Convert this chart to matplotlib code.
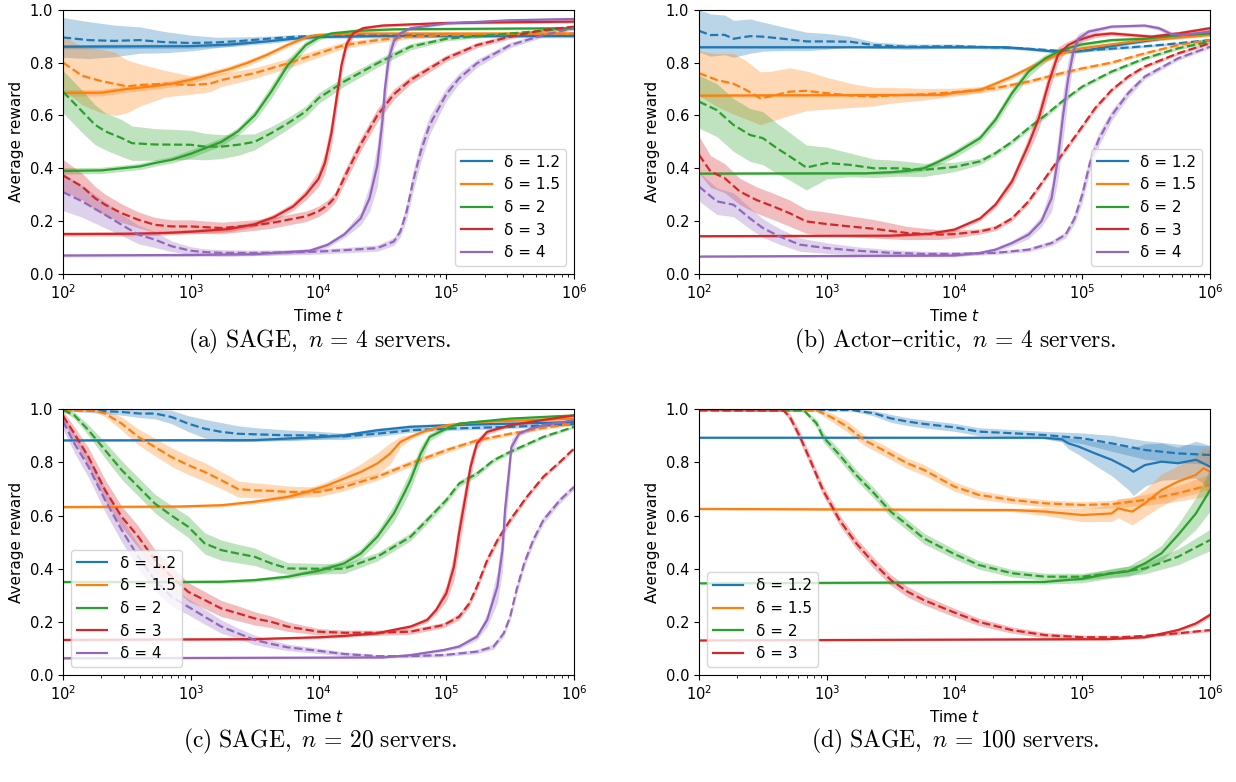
import numpy as np
import matplotlib
matplotlib.use("Agg")
import matplotlib.pyplot as plt

# ---------------- data: (log10 t, mean reward, band half-width) ----------------
DELTAS_4 = ["1.2", "1.5", "2", "3", "4"]
DELTAS_100 = ["1.2", "1.5", "2", "3"]
COLORS = ["#1f77b4", "#ff7f0e", "#2ca02c", "#d62728", "#9467bd"]
CAPTION_A = r"$\mathrm{(a)\ SAGE,}\ n\,=\,4\ \mathrm{servers.}$"
CAPTION_B = r"$\mathrm{(b)\ Actor}$–$\mathrm{critic,}\ n\,=\,4\ \mathrm{servers.}$"
CAPTION_C = r"$\mathrm{(c)\ SAGE,}\ n\,=\,20\ \mathrm{servers.}$"
CAPTION_D = r"$\mathrm{(d)\ SAGE,}\ n\,=\,100\ \mathrm{servers.}$"

# Panel (a): SAGE, n = 4
A12_solid = [(2.0, .86, .008), (3.0, .862, .008), (3.3, .868, .008), (3.6, .88, .008), (3.8, .89, .008),
             (4.0, .897, .006), (4.5, .9, .006), (6.0, .9, .006)]
A12_dash = [(2.0, .895, .075), (2.2, .885, .07), (2.4, .882, .06), (2.6, .885, .05), (2.8, .877, .04),
            (3.0, .874, .03), (3.2, .876, .02), (3.4, .882, .015), (3.6, .89, .01), (3.8, .897, .008),
            (4.0, .902, .006), (4.5, .905, .005), (6.0, .905, .005)]
A15_solid = [(2.0, .685, .012), (2.3, .686, .012), (2.5, .70, .012), (2.7, .71, .012), (2.85, .72, .012),
             (3.0, .735, .012), (3.15, .755, .012), (3.3, .775, .012), (3.45, .80, .012), (3.6, .83, .01),
             (3.75, .865, .01), (3.9, .895, .008), (4.0, .905, .006), (4.3, .91, .005), (6.0, .91, .005)]
A15_dash = [(2.0, .80, .10), (2.15, .75, .11), (2.3, .73, .12), (2.4, .72, .12), (2.5, .71, .10),
            (2.6, .715, .08), (2.8, .72, .05), (3.0, .715, .035), (3.15, .72, .03), (3.24, .734, .025),
            (3.5, .76, .02), (3.76, .797, .018), (4.0, .835, .015), (4.2, .866, .012), (4.46, .885, .01),
            (4.72, .898, .008), (5.0, .904, .006), (6.0, .91, .005)]
A2_solid = [(2.0, .39, .012), (2.3, .392, .012), (2.46, .40, .012), (2.6, .407, .012), (2.72, .42, .012),
            (2.85, .432, .012), (3.0, .455, .015), (3.24, .50, .015), (3.37, .54, .015), (3.5, .60, .02),
            (3.63, .69, .025), (3.76, .79, .025), (3.9, .866, .015), (4.0, .894, .01), (4.1, .91, .008),
            (4.3, .92, .006), (4.6, .926, .005), (6.0, .93, .005)]
A2_dash = [(2.0, .69, .08), (2.15, .615, .08), (2.25, .565, .075), (2.33, .54, .07), (2.46, .514, .07),
           (2.54, .495, .065), (2.72, .49, .06), (3.0, .489, .055), (3.11, .482, .05), (3.24, .482, .045),
           (3.37, .489, .04), (3.5, .50, .03), (3.63, .533, .025), (3.76, .57, .022), (3.9, .615, .02),
           (4.0, .665, .02), (4.2, .728, .018), (4.46, .797, .015), (4.72, .86, .012), (5.0, .89, .008),
           (5.5, .91, .006), (6.0, .93, .005)]
A3_solid = [(2.0, .151, .008), (2.5, .152, .008), (2.8, .155, .008), (3.0, .16, .008), (3.3, .17, .01),
            (3.5, .188, .01), (3.65, .215, .012), (3.8, .255, .015), (3.9, .30, .02), (4.0, .36, .03),
            (4.05, .42, .04), (4.1, .53, .05), (4.14, .66, .05), (4.18, .79, .04), (4.22, .87, .025),
            (4.27, .91, .012), (4.35, .93, .008), (4.5, .94, .006), (5.0, .95, .005), (6.0, .955, .005)]
A3_dash = [(2.0, .373, .06), (2.15, .331, .05), (2.25, .287, .045), (2.33, .262, .04), (2.46, .23, .035),
           (2.59, .205, .03), (2.72, .186, .028), (2.85, .18, .025), (3.0, .18, .025), (3.24, .174, .022),
           (3.5, .185, .02), (3.63, .193, .02), (3.76, .205, .02), (3.9, .218, .02), (4.0, .237, .02),
           (4.07, .26, .02), (4.13, .29, .02), (4.2, .363, .025), (4.33, .49, .025), (4.46, .60, .025),
           (4.59, .68, .02), (4.72, .734, .015), (5.0, .816, .012), (5.24, .866, .01), (5.5, .898, .008),
           (5.76, .923, .006), (6.0, .936, .005)]
A4_solid = [(2.0, .07, .006), (3.0, .072, .006), (3.5, .075, .006), (3.93, .088, .008), (4.07, .11, .01),
            (4.2, .149, .012), (4.33, .21, .025), (4.40, .287, .05), (4.46, .41, .08), (4.50, .577, .09),
            (4.52, .70, .08), (4.55, .816, .05), (4.59, .88, .025), (4.64, .91, .01), (4.72, .93, .006),
            (5.0, .948, .005), (5.5, .96, .005), (6.0, .965, .005)]
A4_dash = [(2.0, .31, .07), (2.15, .275, .06), (2.33, .224, .05), (2.46, .186, .04), (2.59, .149, .035),
           (2.72, .13, .03), (2.85, .105, .02), (3.0, .088, .015), (3.11, .083, .012), (3.24, .08, .012),
           (3.5, .08, .01), (3.76, .082, .01), (4.0, .085, .01), (4.2, .09, .01), (4.46, .098, .012),
           (4.59, .123, .015), (4.64, .16, .02), (4.69, .237, .03), (4.74, .35, .04), (4.8, .463, .04),
           (4.87, .564, .035), (5.0, .68, .025), (5.1, .74, .02), (5.24, .797, .015), (5.5, .866, .01),
           (5.76, .904, .008), (6.0, .93, .006)]

# Panel (b): Actor-critic, n = 4
B12_solid = [(2.0, .858, .004), (4.4, .858, .004), (4.58, .851, .005), (4.79, .841, .006), (4.97, .842, .006),
             (5.1, .852, .006), (5.36, .872, .006), (5.62, .89, .006), (6.0, .91, .006)]
B12_dash = [(2.0, .92, .08), (2.09, .904, .08), (2.2, .905, .075), (2.27, .89, .07), (2.4, .90, .065),
            (2.5, .898, .055), (2.66, .89, .045), (2.84, .88, .035), (3.0, .88, .03), (3.18, .879, .02),
            (3.37, .866, .012), (3.63, .86, .01), (4.0, .862, .008), (4.5, .855, .006), (4.8, .845, .005),
            (5.0, .845, .005), (5.3, .855, .005), (5.6, .866, .005), (6.0, .885, .005)]
B15_solid = [(2.0, .675, .005), (3.9, .678, .006), (4.0, .686, .008), (4.2, .696, .01), (4.32, .72, .01),
             (4.45, .747, .01), (4.58, .778, .01), (4.71, .81, .01), (4.84, .835, .008), (5.0, .854, .008),
             (5.23, .869, .006), (5.49, .885, .006), (6.0, .904, .006)]
B15_dash = [(2.0, .76, .085), (2.14, .734, .10), (2.27, .72, .115), (2.37, .696, .11), (2.48, .665, .10),
            (2.56, .672, .095), (2.71, .69, .09), (2.84, .693, .075), (3.0, .684, .06), (3.2, .675, .045),
            (3.37, .671, .035), (3.5, .676, .03), (3.76, .68, .022), (4.0, .688, .015), (4.32, .703, .01),
            (4.58, .728, .008), (4.84, .76, .008), (5.0, .778, .007), (5.23, .80, .006), (5.49, .835, .006),
            (5.75, .866, .006), (6.0, .885, .005)]
B2_solid = [(2.0, .38, .004), (3.3, .381, .005), (3.5, .385, .006), (3.63, .39, .008), (3.76, .40, .01),
            (3.88, .426, .012), (4.0, .455, .015), (4.2, .514, .015), (4.32, .583, .018), (4.45, .684, .02),
            (4.58, .766, .02), (4.71, .816, .015), (4.84, .848, .01), (5.0, .869, .008), (5.23, .885, .006),
            (5.49, .89, .006), (5.75, .904, .006), (6.0, .91, .006)]
B2_dash = [(2.0, .652, .1), (2.14, .62, .1), (2.27, .564, .1), (2.4, .526, .1), (2.5, .514, .1),
           (2.61, .476, .095), (2.71, .445, .09), (2.84, .403, .085), (3.0, .42, .06), (3.18, .413, .045),
           (3.37, .40, .035), (3.55, .40, .03), (3.76, .394, .025), (4.0, .405, .018), (4.2, .426, .012),
           (4.32, .457, .01), (4.45, .50, .01), (4.58, .552, .01), (4.71, .60, .01), (4.84, .652, .008),
           (5.0, .709, .008), (5.23, .766, .007), (5.49, .816, .006), (5.75, .854, .006), (6.0, .879, .005)]
B3_solid = [(2.0, .143, .004), (3.5, .145, .005), (3.8, .152, .006), (4.0, .168, .008), (4.2, .21, .01),
            (4.32, .262, .012), (4.45, .35, .02), (4.58, .49, .03), (4.66, .59, .04), (4.74, .728, .04),
            (4.81, .829, .03), (4.89, .866, .015), (4.97, .885, .012), (5.1, .904, .01), (5.23, .91, .008),
            (5.36, .905, .008), (5.54, .898, .008), (5.75, .91, .008), (6.0, .93, .008)]
B3_dash = [(2.0, .451, .07), (2.09, .388, .06), (2.2, .363, .055), (2.32, .312, .05), (2.45, .28, .05),
           (2.58, .256, .05), (2.71, .23, .05), (2.84, .199, .045), (3.0, .189, .045), (3.18, .18, .04),
           (3.37, .171, .035), (3.63, .155, .025), (3.89, .149, .018), (4.0, .151, .015), (4.2, .161, .01),
           (4.32, .174, .01), (4.45, .21, .01), (4.58, .275, .01), (4.71, .363, .01), (4.84, .451, .01),
           (5.0, .558, .01), (5.1, .627, .01), (5.23, .696, .008), (5.36, .747, .008), (5.49, .785, .007),
           (5.75, .835, .006), (6.0, .873, .005)]
B4_solid = [(2.0, .066, .004), (4.0, .07, .005), (4.2, .08, .006), (4.32, .092, .008), (4.45, .117, .01),
            (4.58, .149, .015), (4.68, .199, .02), (4.76, .287, .05), (4.81, .438, .08), (4.85, .60, .09),
            (4.89, .74, .07), (4.93, .841, .04), (4.97, .89, .02), (5.05, .917, .01), (5.23, .936, .006),
            (5.49, .94, .006), (5.6, .93, .008), (5.7, .907, .01), (5.8, .905, .01), (6.0, .917, .01)]
B4_dash = [(2.0, .331, .055), (2.14, .275, .05), (2.27, .262, .045), (2.4, .21, .04), (2.5, .174, .035),
           (2.63, .142, .03), (2.79, .111, .025), (3.0, .098, .02), (3.24, .088, .015), (3.5, .08, .012),
           (3.76, .076, .01), (4.0, .076, .008), (4.32, .08, .006), (4.58, .092, .008), (4.76, .117, .01),
           (4.87, .149, .012), (4.94, .21, .02), (5.0, .30, .03), (5.06, .42, .03), (5.13, .51, .025),
           (5.23, .60, .02), (5.36, .684, .015), (5.49, .747, .01), (5.75, .816, .008), (6.0, .86, .006)]

# Panel (c): SAGE, n = 20
C12_solid = [(2.0, .883, .004), (3.5, .884, .005), (3.76, .89, .006), (4.0, .895, .008), (4.2, .902, .008),
             (4.46, .921, .008), (4.72, .934, .008), (5.0, .94, .006), (5.5, .946, .006), (6.0, .952, .005)]
C12_dash = [(2.0, .997, .004), (2.2, .996, .008), (2.46, .99, .012), (2.6, .984, .015), (2.72, .984, .02),
            (2.85, .971, .025), (2.98, .946, .03), (3.11, .927, .035), (3.24, .915, .035), (3.37, .908, .03),
            (3.5, .906, .025), (3.76, .902, .02), (4.0, .902, .015), (4.2, .898, .012), (4.46, .908, .01),
            (4.72, .921, .008), (5.0, .927, .007), (5.5, .934, .006), (6.0, .944, .005)]
C15_solid = [(2.0, .632, .004), (2.9, .634, .005), (3.24, .639, .006), (3.5, .652, .008), (3.76, .67, .01),
             (3.93, .692, .012), (4.07, .714, .015), (4.2, .739, .02), (4.33, .764, .03), (4.46, .796, .04),
             (4.56, .833, .04), (4.64, .877, .02), (4.72, .896, .01), (4.85, .921, .008), (5.0, .94, .006),
             (5.24, .952, .005), (6.0, .965, .005)]
C15_dash = [(2.0, .997, .004), (2.25, .996, .006), (2.33, .984, .012), (2.46, .946, .025), (2.59, .896, .03),
            (2.72, .858, .033), (2.85, .82, .035), (2.98, .79, .035), (3.11, .764, .035), (3.24, .733, .032),
            (3.37, .70, .03), (3.5, .695, .028), (3.63, .693, .025), (3.76, .689, .022), (4.0, .689, .018),
            (4.2, .708, .015), (4.46, .746, .013), (4.72, .796, .012), (5.0, .846, .01), (5.24, .883, .008),
            (5.5, .908, .007), (5.76, .93, .006), (6.0, .946, .005)]
C2_solid = [(2.0, .35, .004), (2.8, .35, .005), (3.24, .351, .006), (3.5, .357, .007), (3.76, .37, .008),
            (4.0, .392, .012), (4.2, .42, .015), (4.33, .457, .018), (4.46, .52, .022), (4.59, .608, .03),
            (4.67, .683, .035), (4.72, .733, .035), (4.8, .833, .03), (4.87, .896, .015), (5.0, .927, .008),
            (5.1, .946, .006), (5.5, .965, .005), (6.0, .977, .005)]
C2_dash = [(2.0, .997, .004), (2.09, .977, .012), (2.2, .921, .02), (2.33, .846, .03), (2.46, .771, .035),
           (2.59, .708, .035), (2.72, .645, .035), (2.85, .60, .038), (2.98, .558, .04), (3.11, .495, .04),
           (3.24, .47, .038), (3.37, .457, .035), (3.5, .445, .033), (3.63, .42, .028), (3.76, .401, .022),
           (4.0, .40, .02), (4.2, .40, .018), (4.46, .445, .016), (4.72, .52, .015), (4.85, .583, .014),
           (5.0, .658, .013), (5.1, .72, .012), (5.24, .758, .01), (5.37, .808, .009), (5.5, .84, .008),
           (5.76, .896, .006), (6.0, .934, .005)]
C3_solid = [(2.0, .132, .004), (3.5, .135, .005), (4.0, .142, .005), (4.2, .147, .006), (4.46, .157, .006),
            (4.59, .17, .007), (4.72, .182, .008), (4.85, .207, .01), (4.92, .244, .015), (5.0, .307, .03),
            (5.06, .407, .05), (5.1, .533, .06), (5.15, .67, .05), (5.19, .783, .04), (5.24, .871, .02),
            (5.32, .915, .01), (5.5, .94, .006), (5.76, .96, .005), (6.0, .977, .005)]
C3_dash = [(2.0, .975, .02), (2.09, .908, .025), (2.2, .82, .035), (2.33, .695, .04), (2.46, .595, .04),
           (2.59, .52, .04), (2.72, .432, .04), (2.85, .37, .038), (2.98, .313, .035), (3.11, .282, .032),
           (3.24, .25, .03), (3.37, .232, .028), (3.5, .213, .025), (3.63, .20, .022), (3.76, .182, .018),
           (4.0, .163, .012), (4.2, .159, .01), (4.46, .159, .01), (4.72, .163, .01), (4.98, .188, .01),
           (5.1, .219, .012), (5.18, .269, .014), (5.24, .332, .015), (5.32, .432, .015), (5.4, .507, .014),
           (5.5, .583, .012), (5.63, .67, .01), (5.76, .746, .008), (5.89, .802, .007), (6.0, .852, .006)]
C4_solid = [(2.0, .063, .004), (4.5, .066, .004), (4.72, .075, .005), (4.98, .094, .006), (5.1, .107, .008),
            (5.24, .144, .012), (5.32, .207, .025), (5.4, .332, .06), (5.44, .47, .08), (5.46, .62, .08),
            (5.49, .758, .06), (5.51, .858, .03), (5.57, .908, .01), (5.66, .927, .008), (5.76, .94, .006),
            (6.0, .959, .005)]
C4_dash = [(2.0, .955, .03), (2.09, .871, .035), (2.2, .783, .04), (2.33, .658, .045), (2.46, .545, .045),
           (2.59, .445, .045), (2.72, .357, .04), (2.85, .294, .035), (2.98, .257, .03), (3.11, .219, .028),
           (3.24, .182, .025), (3.37, .157, .02), (3.5, .132, .018), (3.63, .117, .015), (3.76, .104, .012),
           (4.0, .091, .01), (4.2, .079, .008), (4.46, .071, .006), (4.72, .071, .006), (4.98, .075, .006),
           (5.24, .088, .008), (5.37, .107, .01), (5.45, .157, .012), (5.5, .219, .015), (5.55, .32, .018),
           (5.61, .42, .018), (5.68, .507, .016), (5.76, .583, .014), (5.89, .658, .012), (6.0, .708, .01)]

# Panel (d): SAGE, n = 100
D12_solid = [(2.0, .893, .003), (4.7, .893, .004), (4.84, .887, .01), (4.89, .872, .02), (4.97, .86, .03),
             (5.1, .834, .045), (5.23, .81, .06), (5.36, .778, .08), (5.4, .765, .09), (5.49, .79, .08),
             (5.62, .803, .07), (5.75, .797, .06), (5.89, .81, .07), (6.0, .784, .08)]
D12_dash = [(2.0, .997, .003), (3.2, .997, .004), (3.37, .985, .01), (3.5, .966, .015), (3.63, .954, .015),
            (3.76, .945, .015), (4.0, .932, .015), (4.19, .916, .015), (4.45, .91, .014), (4.71, .903, .014),
            (5.0, .891, .02), (5.23, .872, .03), (5.49, .847, .035), (5.75, .834, .035), (6.0, .828, .035)]
D15_solid = [(2.0, .625, .003), (4.45, .621, .006), (4.71, .615, .015), (5.0, .602, .025), (5.23, .608, .03),
             (5.28, .627, .035), (5.39, .615, .05), (5.49, .646, .05), (5.62, .696, .06), (5.75, .728, .06),
             (5.89, .753, .07), (5.95, .778, .08), (6.0, .765, .08)]
D15_dash = [(2.0, .997, .003), (2.92, .996, .005), (3.03, .972, .015), (3.16, .935, .02), (3.29, .885, .02),
            (3.44, .847, .02), (3.63, .797, .02), (3.76, .772, .02), (4.0, .709, .018), (4.19, .678, .016),
            (4.45, .659, .014), (4.71, .646, .013), (5.0, .64, .012), (5.23, .643, .015), (5.49, .659, .02),
            (5.75, .684, .03), (6.0, .715, .04)]
D2_solid = [(2.0, .345, .003), (4.7, .35, .008), (5.0, .362, .015), (5.23, .383, .018), (5.36, .39, .02),
            (5.49, .42, .025), (5.62, .458, .03), (5.75, .527, .04), (5.89, .608, .06), (6.0, .696, .08)]
D2_dash = [(2.0, .997, .003), (2.82, .996, .005), (2.92, .947, .015), (2.97, .897, .018), (3.1, .828, .02),
           (3.23, .753, .02), (3.37, .684, .02), (3.5, .615, .02), (3.63, .565, .02), (3.76, .514, .02),
           (4.0, .455, .018), (4.19, .414, .016), (4.45, .383, .014), (4.71, .37, .013), (5.0, .37, .013),
           (5.23, .383, .015), (5.49, .401, .02), (5.75, .445, .03), (6.0, .508, .04)]
D3_solid = [(2.0, .13, .003), (5.2, .135, .004), (5.49, .142, .005), (5.75, .169, .007), (5.89, .194, .008),
            (6.0, .226, .01)]
D3_dash = [(2.0, .997, .003), (2.66, .996, .005), (2.71, .972, .015), (2.79, .897, .02), (2.87, .809, .02),
           (2.97, .696, .02), (3.1, .583, .02), (3.23, .496, .02), (3.37, .42, .02), (3.5, .358, .02),
           (3.63, .314, .02), (3.76, .282, .018), (4.0, .235, .016), (4.19, .20, .014), (4.45, .169, .012),
           (4.71, .15, .01), (5.0, .142, .008), (5.3, .142, .007), (5.49, .147, .006), (5.75, .157, .006),
           (6.0, .169, .006)]

PANEL_A = [(A12_solid, A12_dash), (A15_solid, A15_dash), (A2_solid, A2_dash), (A3_solid, A3_dash), (A4_solid, A4_dash)]
PANEL_B = [(B12_solid, B12_dash), (B15_solid, B15_dash), (B2_solid, B2_dash), (B3_solid, B3_dash), (B4_solid, B4_dash)]
PANEL_C = [(C12_solid, C12_dash), (C15_solid, C15_dash), (C2_solid, C2_dash), (C3_solid, C3_dash), (C4_solid, C4_dash)]
PANEL_D = [(D12_solid, D12_dash), (D15_solid, D15_dash), (D2_solid, D2_dash), (D3_solid, D3_dash)]

# ---------------- figure ----------------
W, H = 1236, 782
fig = plt.figure(figsize=(W / 100, H / 100), dpi=100)


def axes_px(x0, y0, x1, y1):
    return fig.add_axes([x0 / W, 1 - y1 / H, (x1 - x0) / W, (y1 - y0) / H])


def draw(ax, panel, deltas, loc):
    for (solid, dash), d, c in zip(panel, deltas, COLORS):
        for data, ls, lab in ((solid, "-", f"δ = {d}"), (dash, "--", None)):
            arr = np.array(data, dtype=float)
            t = 10 ** arr[:, 0]
            v = arr[:, 1]
            w = arr[:, 2]
            ax.fill_between(t, np.clip(v - w, 0, 1), np.clip(v + w, 0, 1),
                            color=c, alpha=0.3, lw=0)
            ax.plot(t, v, ls, color=c, lw=1.6, label=lab)
    ax.set_xscale("log")
    ax.set_xlim(1e2, 1e6)
    ax.set_ylim(0, 1)
    ax.set_yticks([0, 0.2, 0.4, 0.6, 0.8, 1.0])
    ax.set_xlabel("Time $t$", fontsize=11, labelpad=4)
    ax.set_ylabel("Average reward", fontsize=11, labelpad=4)
    ax.tick_params(labelsize=10.5)
    ax.legend(loc=loc, fontsize=11)


axA = axes_px(63, 9.7, 574, 274)
axB = axes_px(699, 9.7, 1210, 274)
axC = axes_px(63, 409.3, 574, 675)
axD = axes_px(699, 409.3, 1210, 675)

draw(axA, PANEL_A, DELTAS_4, "lower right")
draw(axB, PANEL_B, DELTAS_4, "lower right")
draw(axC, PANEL_C, DELTAS_4, "lower left")
draw(axD, PANEL_D, DELTAS_100, "lower left")

cap_kw = dict(ha="center", va="center", fontsize=17, family="DejaVu Serif", math_fontfamily="cm")
fig.text(320 / W, 1 - 341 / H, CAPTION_A, **cap_kw)
fig.text(955 / W, 1 - 341 / H, CAPTION_B, **cap_kw)
fig.text(320 / W, 1 - 741 / H, CAPTION_C, **cap_kw)
fig.text(955 / W, 1 - 741 / H, CAPTION_D, **cap_kw)

fig.savefig("out.png", dpi=100)
